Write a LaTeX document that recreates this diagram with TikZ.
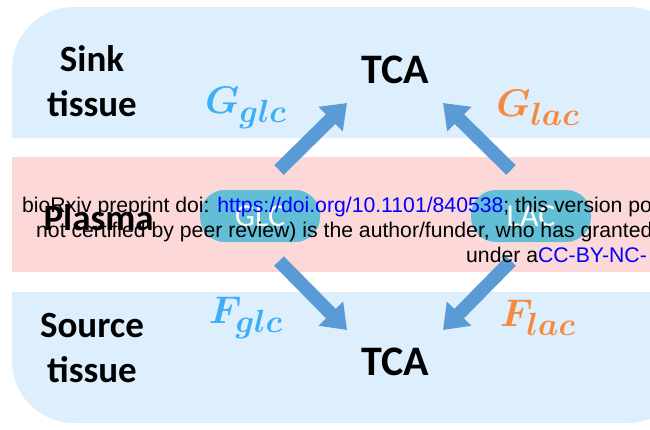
\documentclass[tikz,border=0pt]{standalone}
\usepackage{amsmath}
\usepackage{bm}
\usepackage{graphicx}
\usepackage{fontspec}
\setmainfont{Carlito}
\newfontfamily\marcafont{Liberation Sans}
\usetikzlibrary{arrows.meta, positioning}
\definecolor{Cielo}{RGB}{221, 239, 253}
\definecolor{Rosa}{RGB}{253, 216, 217}
\definecolor{Turquesa}{RGB}{98, 190, 213}
\definecolor{Flecha}{RGB}{91, 155, 213}
\definecolor{AzulGlc}{RGB}{62, 174, 245}
\definecolor{NaranjaLac}{RGB}{247, 137, 62}
\definecolor{Enlace}{RGB}{0, 0, 255}
\newcommand{\flujotex}[1]{\scalebox{1.55}{\Huge$\bm{#1}$}}

\begin{document}
\begin{tikzpicture}[
        x=1pt, y=-1pt,
        tejido/.style={
            align=center,
            font=\bfseries\fontsize{37}{45}\selectfont
        },
        tca/.style={
            font=\bfseries\fontsize{42}{50}\selectfont
        },
        pill/.style={
            rectangle,
            fill=Turquesa,
            rounded corners=25pt,
            minimum width=120pt,
            minimum height=52pt,
            text=white,
            font=\fontsize{32}{36}\selectfont
        },
        flujo/.style={
            inner sep=0pt
        },
        arrow/.style={
            -{Triangle[length=23pt, width=33pt]},
            line width=13.5pt,
            draw=Flecha
        },
        marca/.style={
            anchor=base west,
            inner sep=0pt,
            font=\marcafont\fontsize{21.2}{25}\selectfont
        }
    ]
        \useasboundingbox (0,0) rectangle (650,429);

        % Bands
        \fill[Cielo, rounded corners=62pt] (12,7) rectangle (690,423);
        \fill[white] (12,138) rectangle (690,157);
        \fill[Rosa] (12,157) rectangle (690,272);
        \fill[white] (12,272) rectangle (690,292);

        % Nodes
        \node[tejido] (sink) at (92,81) {Sink\\tissue};
        \node[tejido] (source) at (92,348) {Source\\tissue};
        \node[tejido, anchor=west] (plasma) at (40,218) {Plasma};
        \node[tca] (tcaarriba) at (395,70) {TCA};
        \node[tca] (tcaabajo) at (395,362) {TCA};
        \node[pill] (glc) at (260,216) {GLC};
        \node[pill] (lac) at (531,216) {LAC};
        \node[flujo, text=AzulGlc] (gglc) at (246,108) {\flujotex{G_{glc}}};
        \node[flujo, text=NaranjaLac] (glac) at (538,108) {\flujotex{G_{lac}}};
        \node[flujo, text=AzulGlc] (fglc) at (246,318) {\flujotex{F_{glc}}};
        \node[flujo, text=NaranjaLac] (flac) at (538,318) {\flujotex{F_{lac}}};

        % Paths
        \coordinate (glcsale) at (279,170);
        \coordinate (lacsale) at (511,170);
        \coordinate (glcbaja) at (279,261);
        \coordinate (lacbaja) at (511,261);
        \coordinate (llegaizq) at (347,103);
        \coordinate (llegader) at (443,103);
        \coordinate (entraizq) at (347,330);
        \coordinate (entrader) at (443,330);
        \draw[arrow] (glcsale) -- (llegaizq);
        \draw[arrow] (lacsale) -- (llegader);
        \draw[arrow] (glcbaja) -- (entraizq);
        \draw[arrow] (lacbaja) -- (entrader);

        % Preprint stamp
        \node[marca] (linea1) at (22,212) {bioRxiv preprint doi: \textcolor{Enlace}{https://doi.org/10.1101/840538}; this version po};
        \node[marca] (linea2) at (36,237) {not certified by peer review) is the author/funder, who has granted};
        \node[marca] (linea3) at (466,262) {under a\textcolor{Enlace}{CC-BY-NC-}};
    \end{tikzpicture}
\end{document}
